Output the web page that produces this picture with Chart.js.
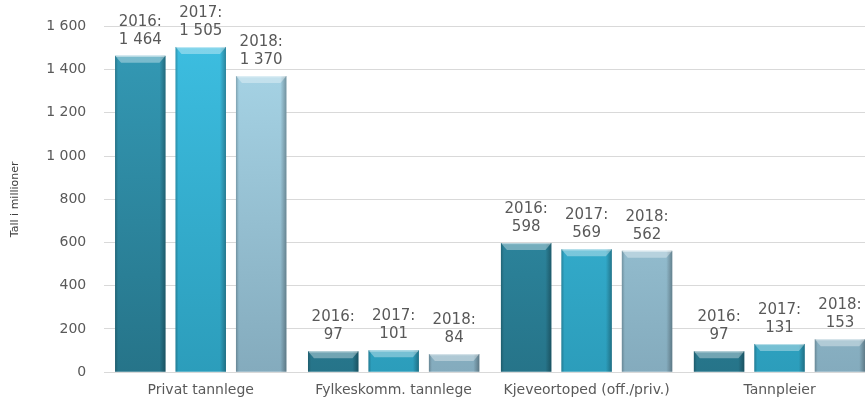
<!DOCTYPE html>
<html>
<head>
<meta charset="utf-8">
<script src="https://cdn.jsdelivr.net/npm/chart.js@4.4.1/dist/chart.umd.min.js"></script>
<style>
html,body{margin:0;padding:0;background:#fff;overflow:hidden;}
#wrap{width:865px;height:400px;overflow:hidden;position:relative;}
#c{position:absolute;left:0;top:0;}
</style>
</head>
<body>
<div id="wrap"><canvas id="c" width="876" height="409"></canvas></div>
<script>
const categories = ["Privat tannlege", "Fylkeskomm. tannlege", "Kjeveortoped (off./priv.)", "Tannpleier"];
const years = ["2016", "2017", "2018"];
const values2016 = [1464, 97, 598, 97];
const values2017 = [1505, 101, 569, 131];
const values2018 = [1370, 84, 562, 153];
const yAxisTitle = "Tall i millioner";

const FONT = "'DejaVu Sans', sans-serif";
const TEXT = "#595959";

function fmt(v){ return String(v).replace(/\B(?=(\d{3})+(?!\d))/g, " "); }

function vGrad(top, bottom){
  return function(ctx){
    const ca = ctx.chart.chartArea;
    if(!ca) return top;
    const g = ctx.chart.ctx.createLinearGradient(0, ca.top, 0, ca.bottom);
    g.addColorStop(0, top); g.addColorStop(1, bottom);
    return g;
  };
}

const bevelPlugin = {
  id: 'bevel',
  afterDatasetsDraw(chart){
    const ctx = chart.ctx;
    chart.data.datasets.forEach((ds, di) => {
      const meta = chart.getDatasetMeta(di);
      meta.data.forEach((el) => {
        const w = el.width, l = el.x - w/2, r = el.x + w/2, t = el.y, b = el.base;
        ctx.save();
        const g = ctx.createLinearGradient(l, 0, r, 0);
        g.addColorStop(0, 'rgba(0,0,0,0.22)');
        g.addColorStop(0.06, 'rgba(0,0,0,0.0)');
        g.addColorStop(0.88, 'rgba(0,0,0,0.0)');
        g.addColorStop(1, 'rgba(0,0,0,0.3)');
        ctx.fillStyle = g;
        ctx.fillRect(l, t, w, b - t);
        const bh = Math.min(7, (b - t) / 2);
        ctx.beginPath();
        ctx.moveTo(l, t); ctx.lineTo(r, t); ctx.lineTo(r - 6, t + bh); ctx.lineTo(l + 6, t + bh); ctx.closePath();
        ctx.fillStyle = 'rgba(255,255,255,0.35)';
        ctx.fill();
        ctx.fillStyle = 'rgba(255,255,255,0.45)';
        ctx.fillRect(l + 1, t, w - 2, 1.2);
        ctx.restore();
      });
    });
  }
};

const labelPlugin = {
  id: 'vlabels',
  afterDatasetsDraw(chart){
    const ctx = chart.ctx;
    ctx.save();
    ctx.fillStyle = TEXT;
    ctx.font = "15px " + FONT;
    ctx.textAlign = 'center';
    ctx.textBaseline = 'middle';
    chart.data.datasets.forEach((ds, di) => {
      const meta = chart.getDatasetMeta(di);
      meta.data.forEach((el, i) => {
        ctx.fillText(ds.label + ":", el.x, el.y - 34);
        ctx.fillText(fmt(ds.data[i]), el.x, el.y - 16);
      });
    });
    ctx.restore();
  }
};

new Chart(document.getElementById('c'), {
  type: 'bar',
  data: {
    labels: categories,
    datasets: [
      { label: years[0], data: values2016, backgroundColor: vGrad('#349bb7', '#267489') },
      { label: years[1], data: values2017, backgroundColor: vGrad('#3dbfe2', '#2c9dbb') },
      { label: years[2], data: values2018, backgroundColor: vGrad('#aad8ea', '#84abbd') }
    ]
  },
  options: {
    responsive: false,
    animation: false,
    devicePixelRatio: 1,
    layout: { padding: { top: 25, right: 0, left: 5, bottom: 0 } },
    categoryPercentage: 0.94,
    barPercentage: 0.835,
    plugins: { legend: { display: false }, tooltip: { enabled: false } },
    scales: {
      x: {
        grid: { display: false, drawTicks: false },
        border: { display: true, color: '#d9d9d9' },
        ticks: { color: TEXT, font: { family: FONT, size: 14 }, padding: 10, maxRotation: 0, autoSkip: false }
      },
      y: {
        min: 0, max: 1600,
        grid: { color: '#d9d9d9', drawTicks: false },
        border: { display: false },
        ticks: { stepSize: 200, color: TEXT, font: { family: FONT, size: 14 }, padding: 18, callback: v => fmt(v) },
        title: { display: true, text: yAxisTitle, color: '#404040', font: { family: FONT, size: 11 }, padding: { bottom: 6 } }
      }
    }
  },
  plugins: [bevelPlugin, labelPlugin]
});
</script>
</body>
</html>
